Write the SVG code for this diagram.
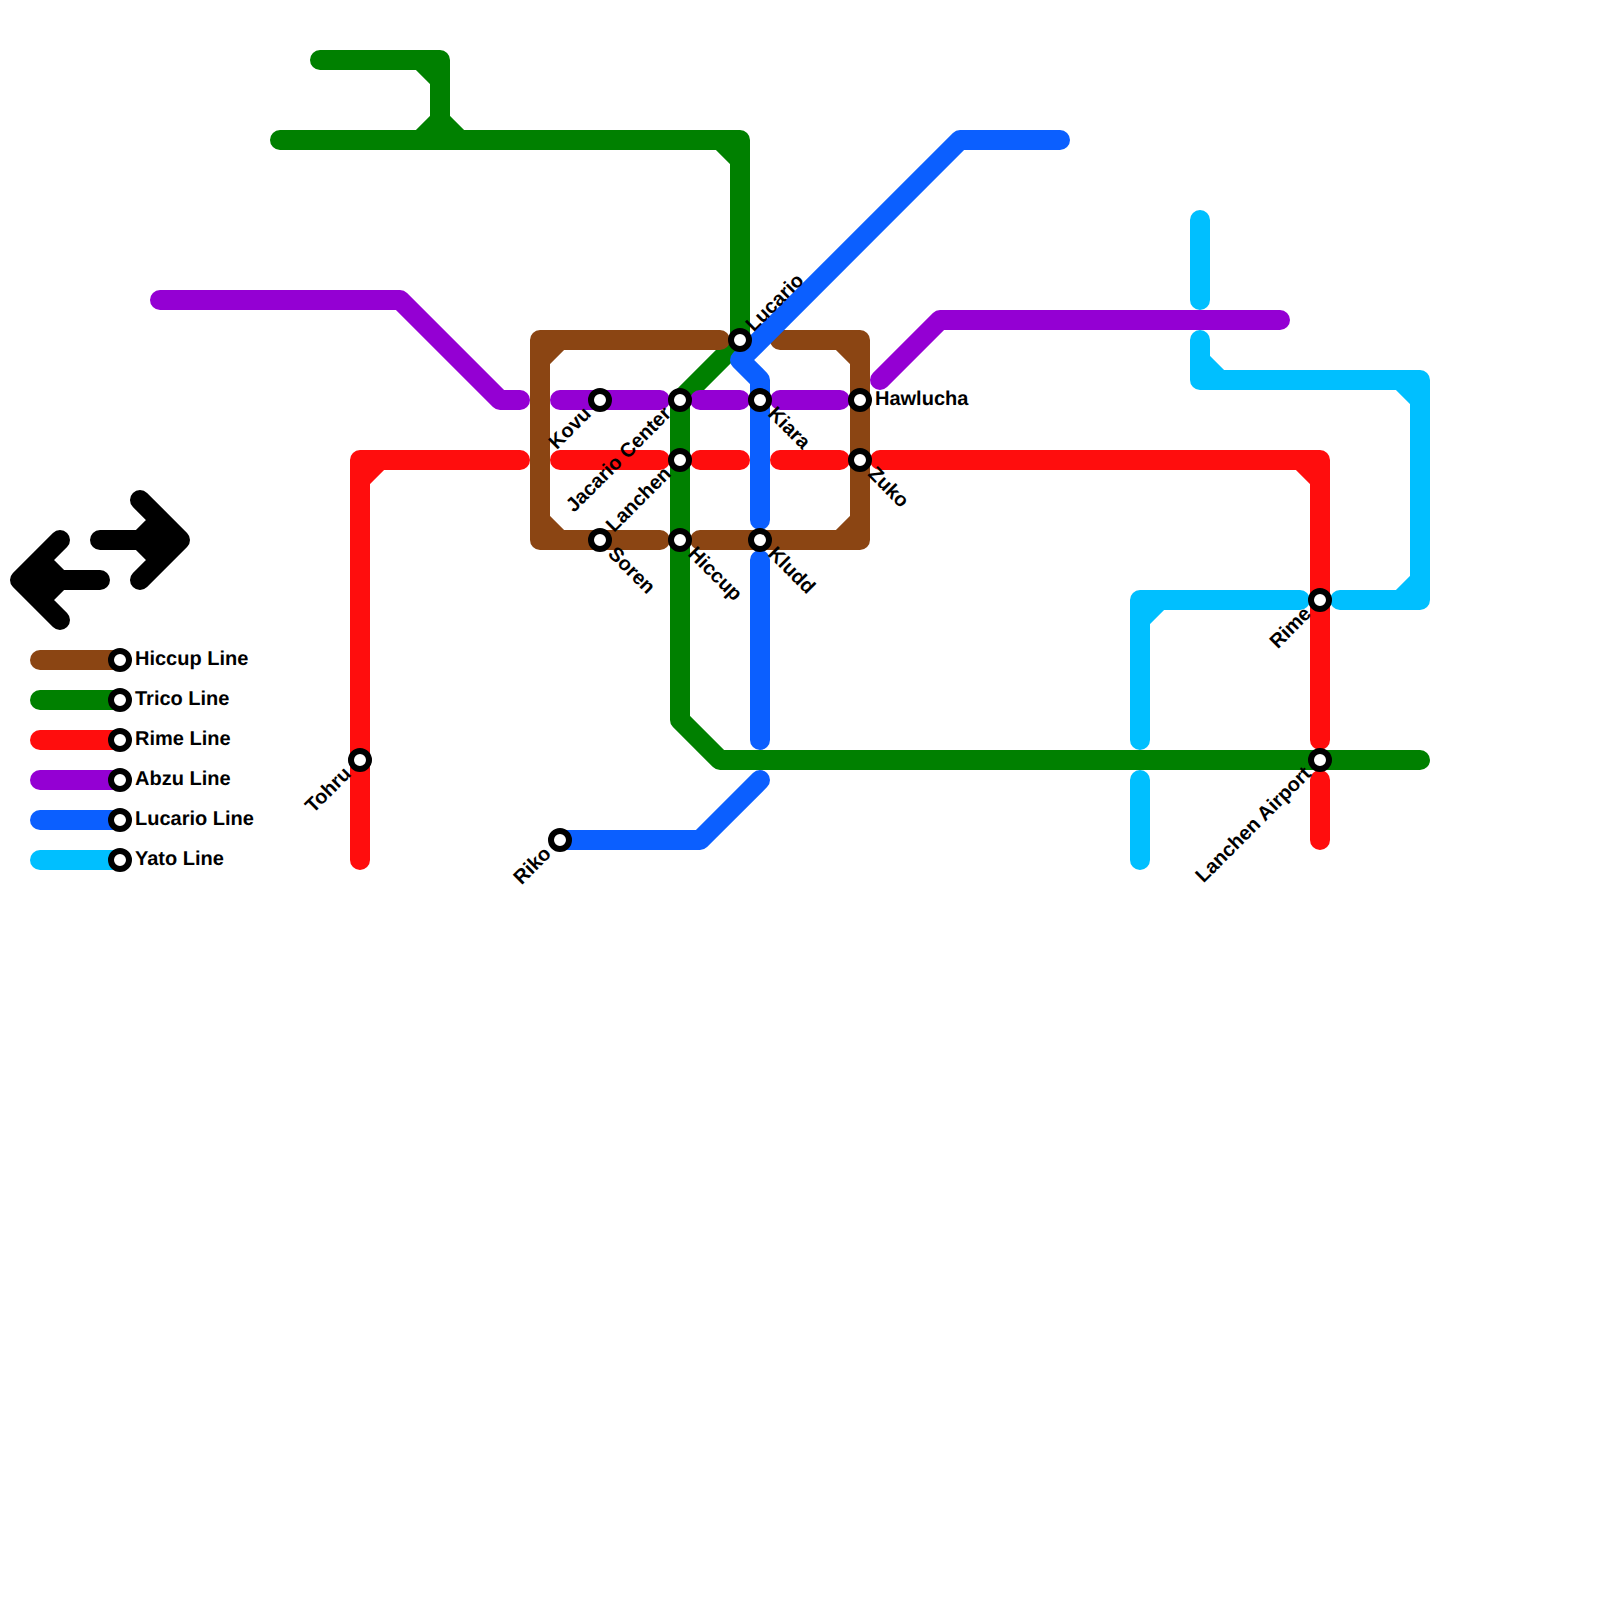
<svg xmlns="http://www.w3.org/2000/svg" width="1600" height="1600" viewBox="0 0 1600 1600">
<style>
.l{fill:none;stroke-width:20;stroke-linecap:round;stroke-linejoin:round}
.brown{stroke:#8B4513}.green{stroke:#008000}.red{stroke:#FF0D0D}.purple{stroke:#9400D3}.blue{stroke:#0B5FFF}.cyan{stroke:#00BFFF}.black{stroke:#000}
.s{fill:#fff;stroke:#000;stroke-width:6}
text{font-family:"Liberation Sans",Arial,sans-serif;font-weight:bold;font-size:20px;fill:#000;text-rendering:geometricPrecision}
.e{text-anchor:end}
</style>
<rect width="1600" height="1600" fill="#fff"/>
<g id="connectors">
<path id="line-trico" class="l green" d="M280 140H740V340L680 400V720L720 760H1420M320 60H440V140M720 140L740 160M420 60L440 80M440 120L420 140M440 120L460 140"/>
<path id="line-hiccup" class="l brown" d="M720 340H540V540H660M780 340H860V540H700M540 360L560 340M840 340L860 360M860 520L840 540M540 520L560 540"/>
<path id="line-rime" class="l red" d="M360 860V460H520M560 460H660M700 460H740M780 460H840M880 460H1320V740M1320 780V840M360 480L380 460M1300 460L1320 480"/>
<path id="line-abzu" class="l purple" d="M160 300H400L500 400H520M560 400H660M700 400H740M780 400H840M880 380L940 320H1280"/>
<path id="line-lucario" class="l blue" d="M1060 140H960L740 360L760 380V520M760 560V740M760 780L700 840H560"/>
<path id="line-yato" class="l cyan" d="M1200 220V300M1200 340V380H1420V600H1340M1300 600H1140V740M1140 780V860M1200 360L1220 380M1400 380L1420 400M1420 580L1400 600M1160 600L1140 620"/>
<path id="arrow-right" class="l black" d="M100 540H180M140 500L180 540L140 580M140 540L160 520V560Z"/>
<path id="arrow-left" class="l black" d="M100 580H20M60 540L20 580L60 620M60 580L40 560V600Z"/>
<path id="legend-lines-hiccup" class="l brown" d="M40 660H120"/>
<path id="legend-lines-trico" class="l green" d="M40 700H120"/>
<path id="legend-lines-rime" class="l red" d="M40 740H120"/>
<path id="legend-lines-abzu" class="l purple" d="M40 780H120"/>
<path id="legend-lines-lucario" class="l blue" d="M40 820H120"/>
<path id="legend-lines-yato" class="l cyan" d="M40 860H120"/>
</g>
<g id="st-kovu"><circle class="s" cx="600" cy="400" r="9"/><text class="e" transform="translate(600 400) rotate(-45)" x="-16" y="5">Kovu</text></g>
<g id="st-jacario"><circle class="s" cx="680" cy="400" r="9"/><text class="e" transform="translate(680 400) rotate(-45)" x="-16" y="5">Jacario Center</text></g>
<g id="st-lanchen"><circle class="s" cx="680" cy="460" r="9"/><text class="e" transform="translate(680 460) rotate(-45)" x="-16" y="5">Lanchen</text></g>
<g id="st-hiccup"><circle class="s" cx="680" cy="540" r="9"/><text transform="translate(680 540) rotate(45)" x="15.5" y="5.5">Hiccup</text></g>
<g id="st-soren"><circle class="s" cx="600" cy="540" r="9"/><text transform="translate(600 540) rotate(45)" x="15.5" y="5.5">Soren</text></g>
<g id="st-kiara"><circle class="s" cx="760" cy="400" r="9"/><text transform="translate(760 400) rotate(45)" x="15.5" y="5.5">Kiara</text></g>
<g id="st-kludd"><circle class="s" cx="760" cy="540" r="9"/><text transform="translate(760 540) rotate(45)" x="15.5" y="5.5">Kludd</text></g>
<g id="st-hawlucha"><circle class="s" cx="860" cy="400" r="9"/><text x="875" y="405">Hawlucha</text></g>
<g id="st-zuko"><circle class="s" cx="860" cy="460" r="9"/><text transform="translate(860 460) rotate(45)" x="15.5" y="5.5">Zuko</text></g>
<g id="st-lucario"><circle class="s" cx="740" cy="340" r="9"/><text transform="translate(740 340) rotate(-45)" x="15" y="4.5">Lucario</text></g>
<g id="st-rime"><circle class="s" cx="1320" cy="600" r="9"/><text class="e" transform="translate(1320 600) rotate(-45)" x="-16" y="5">Rime</text></g>
<g id="st-airport"><circle class="s" cx="1320" cy="760" r="9"/><text class="e" transform="translate(1320 760) rotate(-45)" x="-16" y="5">Lanchen Airport</text></g>
<g id="st-tohru"><circle class="s" cx="360" cy="760" r="9"/><text class="e" transform="translate(360 760) rotate(-45)" x="-16" y="5">Tohru</text></g>
<g id="st-riko"><circle class="s" cx="560" cy="840" r="9"/><text class="e" transform="translate(560 840) rotate(-45)" x="-16" y="5">Riko</text></g>
<g id="legend-hiccup"><circle class="s" cx="120" cy="660" r="9"/><text x="135" y="665">Hiccup Line</text></g>
<g id="legend-trico"><circle class="s" cx="120" cy="700" r="9"/><text x="135" y="705">Trico Line</text></g>
<g id="legend-rime"><circle class="s" cx="120" cy="740" r="9"/><text x="135" y="745">Rime Line</text></g>
<g id="legend-abzu"><circle class="s" cx="120" cy="780" r="9"/><text x="135" y="785">Abzu Line</text></g>
<g id="legend-lucario"><circle class="s" cx="120" cy="820" r="9"/><text x="135" y="825">Lucario Line</text></g>
<g id="legend-yato"><circle class="s" cx="120" cy="860" r="9"/><text x="135" y="865">Yato Line</text></g>
</svg>
